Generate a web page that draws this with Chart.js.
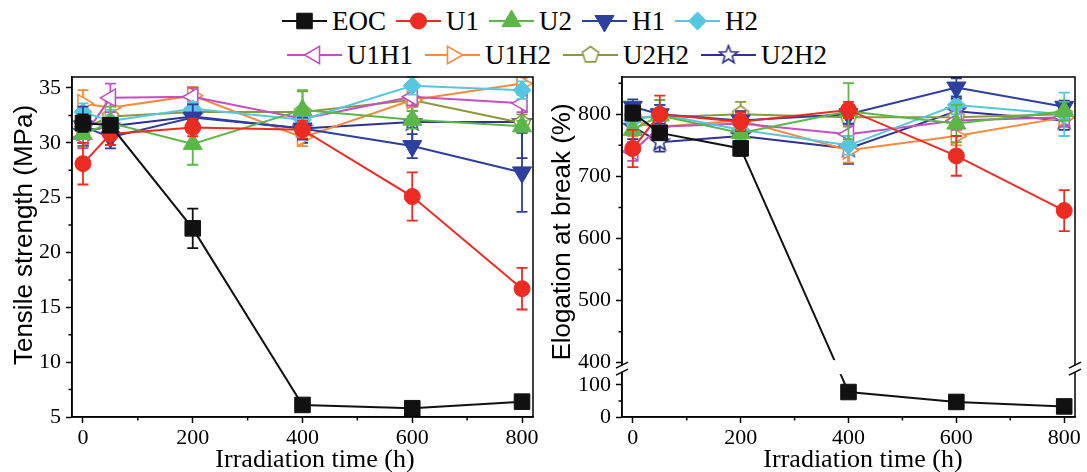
<!DOCTYPE html>
<html>
<head>
<meta charset="utf-8">
<title>Tensile strength and elongation at break</title>
<script src="https://cdn.jsdelivr.net/npm/chart.js@4.4.1/dist/chart.umd.min.js"></script>
<style>
  html, body { margin: 0; padding: 0; background: #fff; }
  body { width: 1087px; height: 472px; position: relative; overflow: hidden; font-family: "Liberation Serif", "Times New Roman", "DejaVu Serif", serif; }
  .panel { position: absolute; top: 0; height: 472px; }
  .legend-row { position: absolute; display: flex; align-items: center; height: 34px; font-size: 27px; color: #000; white-space: nowrap;
                font-family: "Liberation Serif", "Times New Roman", "DejaVu Serif", serif; }
  .legend-item { display: flex; align-items: center; }
  .legend-item canvas { margin-right: 5px; }
  #legendRow1 .legend-item { margin-right: 10px; }
  #legendRow2 .legend-item { margin-right: 12px; }
</style>
</head>
<body>
<div class="legend-row" id="legendRow1" style="left:282px; top:4px"></div>
<div class="legend-row" id="legendRow2" style="left:287px; top:38px"></div>
<div class="panel" style="left:0; width:545px"><canvas id="tensileChart"></canvas></div>
<div class="panel" style="left:545px; width:542px"><canvas id="elongChart"></canvas></div>
<script>
// ---- data ----
const times = [0, 50, 200, 400, 600, 800];
const xTicks = [0, 200, 400, 600, 800];
const xMinor = [100, 300, 500, 700];
const tensileTicks = [5, 10, 15, 20, 25, 30, 35];
const tensileMinor = [7.5, 12.5, 17.5, 22.5, 27.5, 32.5];
const elongTicks = [0, 100, 400, 500, 600, 700, 800];
const elongMinor = [50, 450, 550, 650, 750, 850];
const labels = ["EOC", "U1", "U2", "H1", "H2", "U1H1", "U1H2", "U2H2", "U2H2"];

// tensile strength (MPa)
const tsEOC  = [31.8, 31.6, 22.2, 6.1, 5.8, 6.4];
const tsU1   = [28.1, 30.8, 31.4, 31.2, 25.1, 16.7];
const tsU2   = [30.8, 31.8, 29.9, 33.0, 32.1, 31.5];
const tsH1   = [31.5, 30.5, 32.3, 31.3, 29.7, 27.3];
const tsH2   = [32.8, 32.0, 33.1, 32.1, 35.2, 34.8];
const tsU1H1 = [30.5, 34.1, 34.2, 32.2, 34.2, 33.6];
const tsU1H2 = [33.6, 33.2, 34.3, 30.5, 33.9, 35.4];
const tsU2H2 = [31.3, 32.4, 32.8, 32.8, 33.9, 31.8];
const tsStar = [31.0, 31.5, 32.4, 31.3, 31.9, 31.9];

const tsErrEOC  = [0.8, 0.6, 1.8, 0.3, 0.3, 0.3];
const tsErrU1   = [1.9, 1.0, 0.8, 0.8, 2.2, 1.9];
const tsErrU2   = [1.2, 1.5, 1.9, 1.8, 0.8, 0.5];
const tsErrH1   = [1.8, 1.0, 1.2, 1.0, 1.1, 3.6];
const tsErrH2   = [0.8, 1.0, 0.6, 0.8, 0.8, 0.8];
const tsErrU1H1 = [1.0, 1.3, 0.8, 1.0, 0.8, 0.8];
const tsErrU1H2 = [1.2, 1.0, 0.8, 0.8, 1.0, 0.5];
const tsErrU2H2 = [1.0, 1.8, 0.8, 1.9, 1.5, 0.8];
const tsErrStar = [1.0, 1.0, 2.3, 1.3, 2.1, 3.3];

// elongation at break (%)
const elEOC  = [802, 770, 745, 78, 47, 33];
const elU1   = [745, 800, 788, 807, 733, 645];
const elU2   = [775, 798, 770, 805, 785, 805];
const elH1   = [812, 800, 790, 800, 843, 812];
const elH2   = [790, 800, 775, 750, 815, 800];
const elU1H1 = [740, 780, 785, 768, 790, 795];
const elU1H2 = [785, 780, 790, 742, 765, 795];
const elU2H2 = [795, 795, 800, 795, 795, 800];
const elStar = [780, 755, 765, 745, 805, 790];

const elErrEOC  = [12, 10, 12, 10, 8, 8];
const elErrU1   = [30, 30, 15, 13, 32, 33];
const elErrU2   = [20, 25, 15, 45, 30, 15];
const elErrH1   = [12, 15, 15, 15, 15, 10];
const elErrH2   = [15, 15, 15, 15, 15, 35];
const elErrU1H1 = [15, 15, 15, 15, 15, 15];
const elErrU1H2 = [20, 15, 15, 20, 15, 15];
const elErrU2H2 = [15, 20, 20, 15, 15, 15];
const elErrStar = [20, 15, 15, 25, 20, 15];

// ---- styles ----
const colors = ["#111111", "#ec2c23", "#5bb848", "#2d3f9f", "#56c7df", "#c350c1", "#f58b3d", "#8d973d", "#2f3291"];
const fills = ["#111111", "#ec2c23", "#5bb848", "#2d3f9f", "#56c7df", "#ffffff", "#ffffff", "#ffffff", "#ffffff"];
const rotations = [0, 0, 0, 180, 0, 270, 90, 0, 0];
const radii = [11, 8, 11, 11, 9, 10, 10, 9, 9];
const serif = "'Liberation Serif', 'Times New Roman', 'DejaVu Serif', serif";
const sans = "'Liberation Sans', Arial, 'DejaVu Sans', sans-serif";

function polyCanvas(color, n, outer, inner) {
  const c = document.createElement("canvas");
  c.width = 22; c.height = 22;
  const g = c.getContext("2d");
  g.beginPath();
  const steps = inner ? n * 2 : n;
  for (let k = 0; k < steps; k++) {
    const a = -Math.PI / 2 + k * 2 * Math.PI / steps;
    const r = inner && k % 2 ? inner : outer;
    g.lineTo(11 + Math.cos(a) * r, 11 + Math.sin(a) * r);
  }
  g.closePath();
  g.fillStyle = "#fff"; g.fill();
  g.lineWidth = 1.6; g.strokeStyle = color; g.stroke();
  return c;
}
const pentagon = polyCanvas(colors[7], 5, 8.5);
const star = polyCanvas(colors[8], 5, 9.5, 4);
const styles = ["rect", "circle", "triangle", "triangle", "rectRot", "triangle", "triangle", pentagon, star];

// ---- broken axis for elongation ----
const BREAK_LOW = 140, BREAK_HIGH = 396;
const LOW_DEC = 0.1318, HIGH_DEC = 0.1524;
class BrokenLinearScale extends Chart.LinearScale {
  toDecimal(v) {
    if (v <= BREAK_LOW) return (v - this.min) / (BREAK_LOW - this.min) * LOW_DEC;
    if (v >= BREAK_HIGH) return HIGH_DEC + (v - BREAK_HIGH) / (this.max - BREAK_HIGH) * (1 - HIGH_DEC);
    return LOW_DEC + (v - BREAK_LOW) / (BREAK_HIGH - BREAK_LOW) * (HIGH_DEC - LOW_DEC);
  }
  getPixelForValue(v) {
    if (v === null || isNaN(v)) return NaN;
    return this.getPixelForDecimal(this.toDecimal(v));
  }
  getValueForPixel(p) {
    const d = this.getDecimalForPixel(p);
    if (d <= LOW_DEC) return this.min + d / LOW_DEC * (BREAK_LOW - this.min);
    if (d >= HIGH_DEC) return BREAK_HIGH + (d - HIGH_DEC) / (1 - HIGH_DEC) * (this.max - BREAK_HIGH);
    return BREAK_LOW + (d - LOW_DEC) / (HIGH_DEC - LOW_DEC) * (BREAK_HIGH - BREAK_LOW);
  }
}
BrokenLinearScale.id = "brokenLinear";
Chart.register(BrokenLinearScale);

// ---- plugins ----
const errorBars = {
  id: "errorBars",
  beforeDatasetDraw(chart, args) {
    const ds = chart.data.datasets[args.index];
    const xs = chart.scales.x, ys = chart.scales.y, ctx = chart.ctx;
    ctx.save();
    ctx.strokeStyle = ds.borderColor;
    ctx.lineWidth = 1.8;
    ctx.beginPath();
    ds.data.forEach((p, k) => {
      const e = ds.errors[k];
      const px = xs.getPixelForValue(p.x);
      const top = ys.getPixelForValue(p.y + e), bot = ys.getPixelForValue(p.y - e);
      ctx.moveTo(px, top); ctx.lineTo(px, bot);
      ctx.moveTo(px - 5.5, top); ctx.lineTo(px + 5.5, top);
      ctx.moveTo(px - 5.5, bot); ctx.lineTo(px + 5.5, bot);
    });
    ctx.stroke();
    ctx.restore();
  }
};

const frameConfig = {
  tensileChart: {
    yMinor: tensileMinor,
    yTitle: { text: "Tensile strength (MPa)", x: 25, y: 235 },
    xTitle: { text: "Irradiation time (h)", x: 315, y: 460 }
  },
  elongChart: {
    yMinor: elongMinor,
    breakAt: [BREAK_LOW, BREAK_HIGH],
    yTitle: { text: "Elogation at break (%)", x: 18, y: 232 },
    xTitle: { text: "Irradiation time (h)", x: 318, y: 460 }
  }
};

const frame = {
  id: "frame",
  afterDraw(chart) {
    const cfg = frameConfig[chart.canvas.id];
    const { ctx, chartArea: a, scales } = chart;
    ctx.save();
    ctx.strokeStyle = "#000";
    ctx.lineWidth = 1.5;
    ctx.strokeRect(a.left, a.top, a.right - a.left, a.bottom - a.top);
    ctx.beginPath();
    xMinor.forEach(v => {
      const px = scales.x.getPixelForValue(v);
      ctx.moveTo(px, a.bottom); ctx.lineTo(px, a.bottom + 3.5);
    });
    cfg.yMinor.forEach(v => {
      const py = scales.y.getPixelForValue(v);
      ctx.moveTo(a.left, py); ctx.lineTo(a.left - 3.5, py);
    });
    ctx.stroke();

    if (cfg.breakAt) {
      const yLo = scales.y.getPixelForValue(cfg.breakAt[0]);
      const yHi = scales.y.getPixelForValue(cfg.breakAt[1]);
      ctx.fillStyle = "#fff";
      ctx.fillRect(a.left + 1, yHi - 5, a.right - a.left - 2, yLo - yHi + 7);
      ctx.fillRect(a.left - 2, yHi, 4, yLo - yHi);
      ctx.fillRect(a.right - 2, yHi, 4, yLo - yHi);
      ctx.beginPath();
      [a.left, a.right].forEach(x => {
        [yHi, yLo].forEach(y => { ctx.moveTo(x - 6, y + 3); ctx.lineTo(x + 6, y - 3); });
      });
      ctx.stroke();
    }

    ctx.fillStyle = "#000";
    ctx.textAlign = "center";
    ctx.textBaseline = "middle";
    ctx.font = "26px " + serif;
    ctx.fillText(cfg.xTitle.text, cfg.xTitle.x, cfg.xTitle.y);
    ctx.translate(cfg.yTitle.x, cfg.yTitle.y);
    ctx.rotate(-Math.PI / 2);
    ctx.font = "26px " + sans;
    ctx.fillText(cfg.yTitle.text, 0, 0);
    ctx.restore();
  }
};

// ---- chart building ----
function buildDatasets(values, errs) {
  return values.map((vals, i) => ({
    label: labels[i],
    data: times.map((t, k) => ({ x: t, y: vals[k] })),
    errors: errs[i],
    borderColor: colors[i],
    backgroundColor: fills[i],
    borderWidth: 2,
    tension: 0,
    pointStyle: styles[i],
    pointRotation: rotations[i],
    pointRadius: radii[i],
    pointBackgroundColor: fills[i],
    pointBorderColor: colors[i],
    pointBorderWidth: i >= 5 ? 1.6 : 1
  }));
}

const tickFont = { family: serif, size: 22 };

function makeOptions(yAxis, yWidth, padRight) {
  return {
    responsive: true,
    maintainAspectRatio: false,
    animation: false,
    events: [],
    layout: { padding: { top: 77, right: padRight, left: 0, bottom: 0 } },
    plugins: { legend: { display: false }, tooltip: { enabled: false } },
    scales: {
      x: {
        type: "linear",
        min: -20,
        max: 820,
        afterBuildTicks: s => { s.ticks = xTicks.map(v => ({ value: v })); },
        afterFit: s => { s.height = 55; s.paddingLeft = 0; s.paddingRight = 0; },
        grid: { drawOnChartArea: false, tickLength: 6, color: "#000", tickWidth: 1.5 },
        border: { color: "#000", width: 1.5 },
        ticks: { color: "#000", font: tickFont, padding: 2, maxRotation: 0, autoSkip: false, callback: v => String(v) }
      },
      y: Object.assign({
        afterFit: s => { s.width = yWidth; },
        grid: { drawOnChartArea: false, tickLength: 6, color: "#000", tickWidth: 1.5 },
        border: { color: "#000", width: 1.5 },
        ticks: { color: "#000", font: tickFont, padding: 5, autoSkip: false, callback: v => String(v) }
      }, yAxis)
    }
  };
}

new Chart(document.getElementById("tensileChart"), {
  type: "line",
  data: {
    datasets: buildDatasets(
      [tsEOC, tsU1, tsU2, tsH1, tsH2, tsU1H1, tsU1H2, tsU2H2, tsStar],
      [tsErrEOC, tsErrU1, tsErrU2, tsErrH1, tsErrH2, tsErrU1H1, tsErrU1H2, tsErrU2H2, tsErrStar])
  },
  options: makeOptions({
    type: "linear", min: 5, max: 36,
    afterBuildTicks: s => { s.ticks = tensileTicks.map(v => ({ value: v })); }
  }, 72, 11),
  plugins: [errorBars, frame]
});

new Chart(document.getElementById("elongChart"), {
  type: "line",
  data: {
    datasets: buildDatasets(
      [elEOC, elU1, elU2, elH1, elH2, elU1H1, elU1H2, elU2H2, elStar],
      [elErrEOC, elErrU1, elErrU2, elErrH1, elErrH2, elErrU1H1, elErrU1H2, elErrU2H2, elErrStar])
  },
  options: makeOptions({
    type: "brokenLinear", min: 0, max: 860,
    afterBuildTicks: s => { s.ticks = elongTicks.map(v => ({ value: v })); }
  }, 77, 3),
  plugins: [errorBars, frame]
});

// ---- legend ----
function drawMarker(g, i, x, y) {
  const s = styles[i], r = radii[i];
  g.save();
  g.translate(x, y);
  g.rotate(rotations[i] * Math.PI / 180);
  if (typeof s !== "string") {
    g.drawImage(s, -s.width / 2, -s.height / 2);
    g.restore();
    return;
  }
  g.beginPath();
  if (s === "rect") { const h = r * Math.SQRT1_2; g.rect(-h, -h, 2 * h, 2 * h); }
  else if (s === "circle") g.arc(0, 0, r, 0, 2 * Math.PI);
  else if (s === "rectRot") { g.moveTo(-r, 0); g.lineTo(0, -r); g.lineTo(r, 0); g.lineTo(0, r); g.closePath(); }
  else { for (let k = 0; k < 3; k++) { const a = k * 2 * Math.PI / 3; g.lineTo(Math.sin(a) * r, -Math.cos(a) * r); } g.closePath(); }
  g.fillStyle = fills[i];
  g.strokeStyle = colors[i];
  g.lineWidth = i >= 5 ? 1.6 : 1;
  g.fill();
  g.stroke();
  g.restore();
}

labels.forEach((name, i) => {
  const item = document.createElement("div");
  item.className = "legend-item";
  const w = i < 5 ? 45 : 55;
  const c = document.createElement("canvas");
  c.width = w; c.height = 34;
  const g = c.getContext("2d");
  g.strokeStyle = colors[i];
  g.lineWidth = 2.2;
  g.beginPath(); g.moveTo(0, 17); g.lineTo(w, 17); g.stroke();
  drawMarker(g, i, w / 2, 17);
  const span = document.createElement("span");
  span.textContent = name;
  item.appendChild(c);
  item.appendChild(span);
  document.getElementById(i < 5 ? "legendRow1" : "legendRow2").appendChild(item);
});
</script>
</body>
</html>
